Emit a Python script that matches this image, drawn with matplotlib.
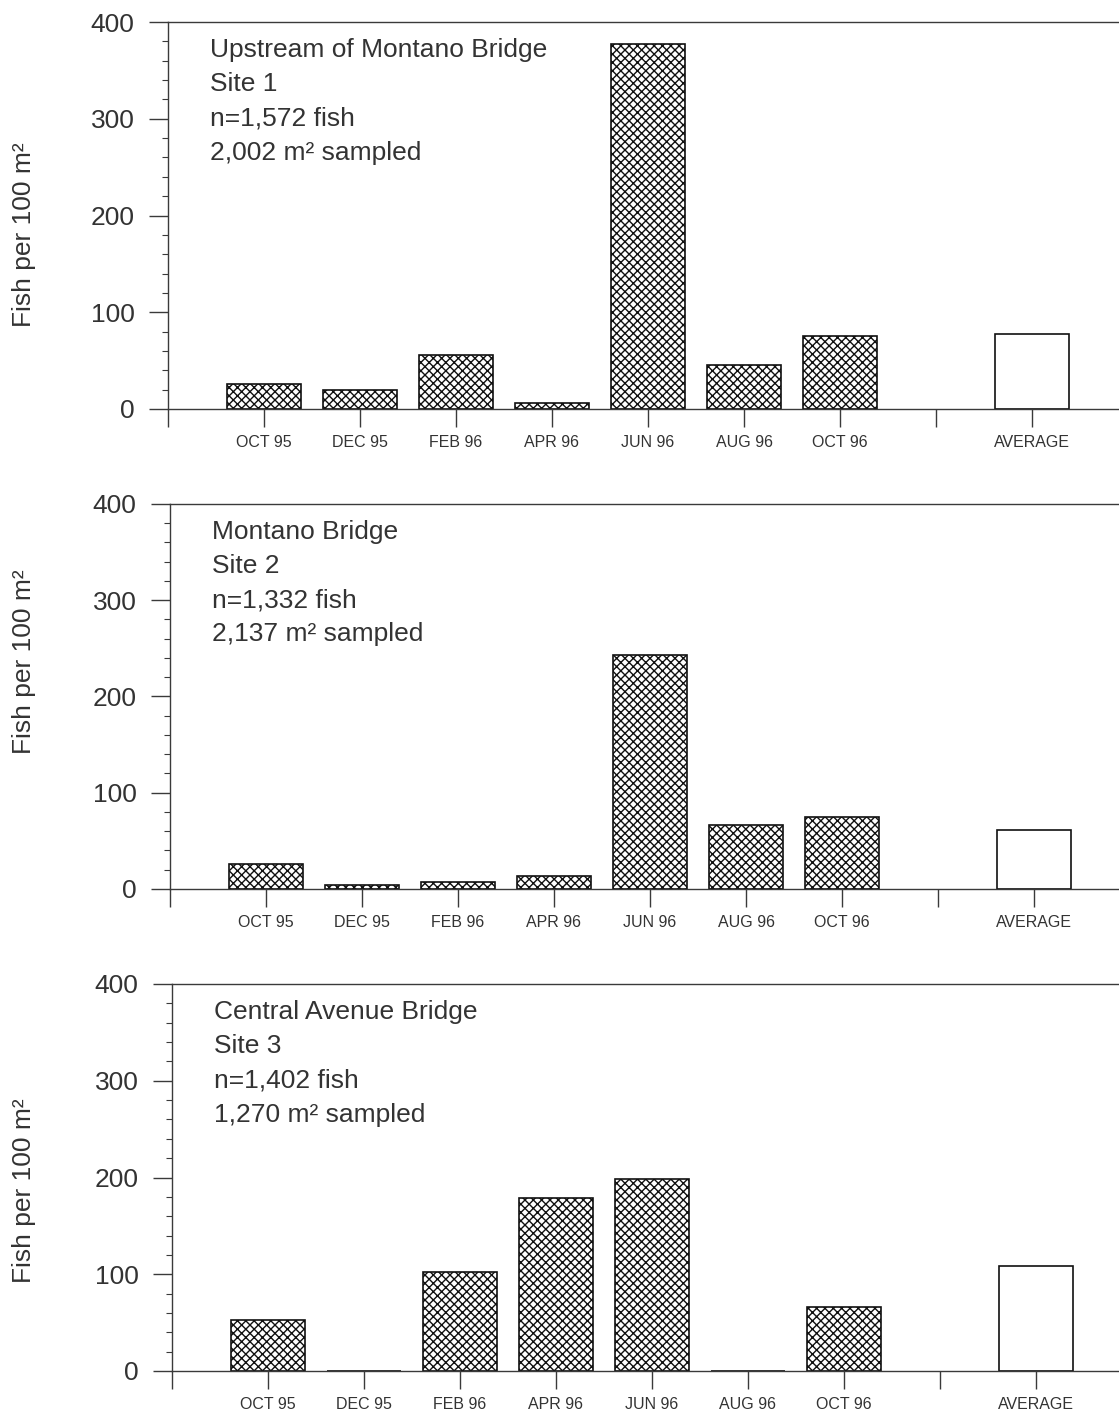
import matplotlib
matplotlib.use("Agg")
import matplotlib.pyplot as plt
from matplotlib.ticker import MultipleLocator, FixedLocator

plt.rcParams['font.family'] = ['Liberation Sans', 'DejaVu Sans']
plt.rcParams['hatch.linewidth'] = 1.0
plt.rcParams['hatch.color'] = '#222222'

categories = ["", "OCT 95", "DEC 95", "FEB 96", "APR 96", "JUN 96", "AUG 96", "OCT 96", "", "AVERAGE"]
months = ["OCT 95", "DEC 95", "FEB 96", "APR 96", "JUN 96", "AUG 96", "OCT 96"]

site1_values = [26, 20, 56, 6, 377, 45, 75]
site1_average = 78
site2_values = [26, 4, 7, 13, 243, 66, 75]
site2_average = 61
site3_values = [53, 0, 102, 179, 198, 0, 66]
site3_average = 109

site_titles = [
    ["Upstream of Montano Bridge", "Site 1", "n=1,572 fish", "2,002 m\u00b2 sampled"],
    ["Montano Bridge", "Site 2", "n=1,332 fish", "2,137 m\u00b2 sampled"],
    ["Central Avenue Bridge", "Site 3", "n=1,402 fish", "1,270 m\u00b2 sampled"],
]

W, H = 1119, 1415
fig = plt.figure(figsize=(W / 100, H / 100), dpi=100)

# (left px, top px, bottom px, ylabel vertical fraction)
panels = [(168, 22, 409, 0.45), (170, 504, 889, 0.59), (172, 984, 1371, 0.465)]
data = [(site1_values, site1_average), (site2_values, site2_average), (site3_values, site3_average)]

line_col = '#3a3a3a'
text_col = '#333333'
spacing_px = 96.0

for (lp, tp, bp, yl), (vals, avg), title in zip(panels, data, site_titles):
    ax = fig.add_axes([lp / W, 1 - bp / H, (W - lp) / W, (bp - tp) / H])
    xs = list(range(1, len(vals) + 1))
    ax.bar(xs, vals, width=0.78, facecolor='white', edgecolor='#111111',
           hatch='xxxx', linewidth=1.2, zorder=2)
    ax.bar([9], [avg], width=0.78, facecolor='white', edgecolor='#111111',
           linewidth=1.2, zorder=2)
    ax.set_xlim(0, (W - lp) / spacing_px)
    ax.set_ylim(0, 400)
    ax.spines['right'].set_visible(False)
    for s in ['left', 'top', 'bottom']:
        ax.spines[s].set_color(line_col)
        ax.spines[s].set_linewidth(1.0)
    ax.yaxis.set_major_locator(MultipleLocator(100))
    ax.yaxis.set_minor_locator(MultipleLocator(20))
    ax.tick_params(axis='y', which='major', direction='out', length=14, width=1.0,
                   color=line_col, labelsize=19, labelcolor=text_col, pad=10)
    ax.tick_params(axis='y', which='minor', direction='out', length=4, width=0.8,
                   color=line_col)
    ax.xaxis.set_major_locator(FixedLocator(range(len(categories))))
    ax.set_xticklabels(categories)
    ax.tick_params(axis='x', which='major', direction='out', length=13, width=1.0,
                   color=line_col, labelsize=11.5, labelcolor=text_col, pad=6)
    ax.set_ylabel("Fish per 100 m\u00b2", fontsize=19, color=text_col)
    ax.yaxis.set_label_coords(-(lp - 24) / (W - lp), yl)
    lab = ax.yaxis.label
    lab.set_va('center')
    for i, line in enumerate(title):
        ax.text(42 / spacing_px, 371 - i * 35.5, line, fontsize=19, color=text_col,
                ha='left', va='center')

fig.savefig("out.png", dpi=100)
